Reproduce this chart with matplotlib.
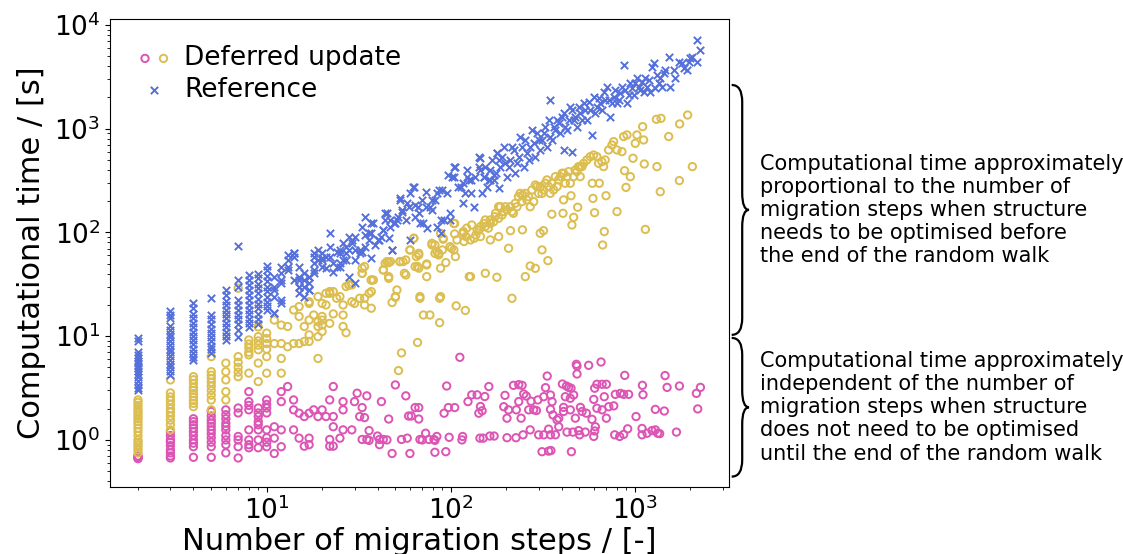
import matplotlib
matplotlib.use("Agg")
import matplotlib.pyplot as plt
from matplotlib.path import Path
from matplotlib.patches import PathPatch
from matplotlib.legend_handler import HandlerTuple

# colours of the three groups
PINK = "#dc55b4"
YELLOW = "#dcbe50"
BLUE = "#5570db"


def column(steps, times):
    # all runs that share the same number of migration steps
    return [(steps, t) for t in times]


# ---- Deferred update, no optimisation needed (pink) ----
pink_low = (column(2, [0.66, 0.67, 0.68, 0.69, 0.70])
            + column(3, [1.2, 1.1, 1.0, 0.95, 0.88, 0.80, 0.75, 0.70, 0.67])
            + column(4, [1.6, 1.5, 1.4, 1.3, 1.2, 1.1, 1.0, 0.93, 0.86, 0.68])
            + column(5, [1.88, 1.7, 1.55, 1.45, 1.35, 1.25, 1.15, 1.05, 0.95, 0.86, 0.68])
            + column(6, [1.95, 1.75, 1.6, 1.45, 1.35, 1.25, 1.1, 1.0, 0.9, 0.75])
            + column(7, [2.03, 1.82, 1.08, 1.0, 0.86, 0.67])
            + column(8, [2.92, 2.34, 2.15, 1.95, 1.25, 1.0, 0.9, 0.84])
            + column(9, [2.03, 1.82, 1.68, 1.5, 1.4, 1.25, 1.0, 0.84])
            + column(10, [2.43, 2.2, 2.03, 1.82, 1.25, 1.05, 0.95, 0.86]))

pink_mid = [
    (12, 2.92), (13, 3.27), (12, 2.34), (14, 2.43), (14, 1.95), (11, 1.34), (12, 1.25),
    (14, 1.25), (11, 1.04), (12, 0.86), (11, 0.74),
    (23, 3.27), (50, 3.39), (95, 3.31), (112, 6.26), (161, 3.27), (22, 2.43), (26, 2.34),
    (30, 2.34), (31, 2.82), (35, 2.66), (42, 2.34), (57, 2.66), (64, 2.05), (67, 2.05),
    (33, 2.05), (26, 1.95), (124, 2.34), (130, 2.72), (139, 2.72), (153, 2.62), (145, 2.10),
    (148, 1.91), (142, 1.81), (92, 1.81), (97, 2.05), (105, 2.05), (15, 1.81), (16, 1.68),
    (17, 1.81), (18, 1.95), (19, 1.68), (20, 1.95), (21, 1.68), (23, 1.68), (32, 1.68),
    (34, 1.64), (46, 1.59), (59, 1.70), (61, 1.70), (67, 1.59), (23, 1.34), (26, 1.25),
    (29, 1.25), (36, 1.23), (15, 1.04), (17, 1.04), (22, 1.01), (25, 1.04), (33, 1.01),
    (35, 1.01), (36, 0.99), (40, 1.09), (41, 1.01), (43, 1.01), (45, 1.0), (54, 1.01),
    (58, 1.04), (68, 1.01), (73, 1.16), (70, 1.0), (76, 1.01), (81, 1.01), (84, 1.08),
    (82, 0.99), (98, 1.06), (116, 1.08), (115, 1.0), (144, 1.04), (150, 1.04), (163, 1.09),
    (172, 1.09), (16, 0.87), (17, 0.90), (22, 0.87), (23, 0.87), (41, 0.90), (48, 0.74),
    (60, 0.74), (82, 0.76), (94, 0.77),
]

pink_high = [
    (481, 5.36), (485, 5.16), (561, 5.24), (655, 5.64), (485, 4.32), (334, 4.13), (881, 4.19),
    (1459, 4.17), (219, 3.36), (234, 3.41), (244, 3.36), (327, 3.19), (404, 3.46), (425, 3.31),
    (437, 3.21), (450, 3.15), (605, 3.15), (622, 3.44), (664, 3.44), (700, 3.44), (1099, 3.36),
    (1496, 3.21), (1746, 3.31), (2270, 3.21), (2159, 2.81), (197, 2.69), (249, 2.77),
    (257, 2.65), (320, 2.61), (348, 2.71), (419, 2.61), (446, 2.52), (465, 2.71), (682, 2.61),
    (783, 2.75), (834, 2.81), (869, 2.75), (925, 2.75), (1107, 2.73), (234, 2.34), (273, 2.36),
    (297, 2.43), (355, 2.34), (598, 2.46), (194, 2.09), (206, 1.95), (227, 1.95), (265, 1.95),
    (282, 1.95), (292, 1.92), (348, 1.97), (410, 2.06), (410, 1.88), (446, 1.95), (506, 2.06),
    (517, 1.88), (545, 1.81), (622, 2.02), (664, 1.95), (721, 2.09), (768, 2.13), (1292, 1.97),
    (1445, 1.90), (2195, 1.99), (202, 1.62), (241, 1.62), (359, 1.74), (386, 1.62), (378, 1.56),
    (475, 1.62), (585, 1.58), (700, 1.62), (1015, 1.68), (270, 1.25), (300, 1.12), (320, 1.12),
    (340, 1.27), (348, 1.12), (370, 1.12), (386, 1.34), (428, 1.19), (461, 1.19), (495, 1.23),
    (501, 1.12), (538, 1.19), (598, 1.08), (605, 1.22), (610, 1.34), (777, 1.12), (827, 1.08),
    (869, 1.13), (914, 1.28), (1094, 1.29), (1094, 1.12), (1164, 1.16), (1239, 1.23),
    (1292, 1.25), (1330, 1.16), (1364, 1.15), (1682, 1.19), (202, 1.05), (226, 1.05),
    (247, 1.12), (313, 0.77), (340, 0.78), (350, 0.79), (452, 0.77),
]

# ---- Deferred update, optimisation needed (yellow) ----
yellow_low = (column(2, [2.43, 2.3, 2.15, 2.0, 1.9, 1.8, 1.7, 1.6, 1.5, 1.4, 1.3, 1.2, 1.1,
                         1.0, 0.95, 0.9, 0.85, 0.8, 0.75])
              + column(3, [3.79, 2.84, 2.6, 2.4, 2.2, 2.0, 1.85, 1.7, 1.55, 1.4, 1.25])
              + column(4, [4.07, 3.8, 3.5, 3.2, 3.0, 2.8, 2.6, 2.4, 2.25, 2.09])
              + column(5, [6.35, 4.55, 4.2, 3.9, 3.6, 3.3, 3.0, 2.7, 2.43, 1.95])
              + column(6, [5.5, 4.55, 3.79, 2.92, 2.43])
              + column(7, [29.0, 6.35, 5.6, 5.0, 4.5, 4.07])
              + column(8, [9.2, 8.4, 7.7, 7.0, 6.6, 4.4])
              + column(9, [12.3, 9.9, 9.0, 8.2, 7.4, 5.5, 3.65])
              + column(10, [10.7, 9.5, 8.5, 7.5, 6.35, 4.4]))

yellow_mid = [
    (11, 14.3), (12, 12.8), (13, 12.4), (14, 17.9), (11, 8.5), (12, 8.5), (13, 7.9),
    (14, 8.5), (15, 8.5), (12, 6.1), (12, 4.4),
    (15, 19.3), (17, 21.5), (17, 20.7), (19, 24.1), (20, 20.7), (21, 20.0), (22, 26.9),
    (23, 26.9), (24, 23.2), (25, 24.1), (26, 20.0), (29, 21.5), (30, 20.7), (32, 23.2),
    (34, 23.2), (36, 25.9), (37, 26.9), (37, 18.6), (34, 20.0), (28, 31.2), (29, 31.2),
    (33, 45.2), (33, 40.4), (37, 34.8), (38, 34.8), (15, 15.5), (16, 12.4), (17, 14.3),
    (18, 16.0), (19, 13.8), (19, 12.4), (20, 14.3), (20, 15.5), (20, 12.8), (22, 13.3),
    (23, 16.4), (26, 16.0), (26, 12.4), (27, 10.8), (20, 11.1), (17, 10.3), (16, 8.9),
    (17, 8.9), (19, 9.9), (19, 6.1), (43, 43.5), (45, 52.4), (46, 51.2), (46, 36.1),
    (53, 52.4), (55, 52.4), (57, 38.9), (60, 67.8), (63, 87.9), (65, 58.5), (64, 46.9),
    (67, 60.7), (67, 45.2), (74, 49.7), (74, 37.5), (79, 75.8), (82, 75.8), (84, 65.3),
    (86, 60.7), (88, 45.2), (91, 86.0), (94, 51.2), (101, 70.4), (105, 122), (105, 96.8),
    (106, 58.5), (117, 102), (118, 81.7), (121, 91.2), (128, 84.7), (134, 87.9), (137, 94.7),
    (143, 106), (48, 21.1), (50, 23.7), (68, 23.2), (71, 16.0), (77, 16.0), (87, 23.2),
    (87, 13.5), (107, 19.6), (120, 17.7), (126, 37.5), (66, 8.7), (54, 6.9), (52, 4.66),
    (63, 87.9), (60, 67.8), (67, 62.9), (66, 46.9), (74, 48.6), (79, 78.6), (82, 62.9),
    (86, 62.9), (88, 98.2), (91, 87.9), (90, 67.8), (99, 73.0), (104, 67.8), (108, 84.7),
    (117, 98.2), (122, 110), (130, 118), (139, 106), (145, 91.2), (104, 122), (44, 50.4),
    (46, 37.5), (47, 52.4), (53, 52.4), (56, 40.4), (57, 54.3), (51, 27.9), (50, 24.1),
    (43, 43.5), (37, 34.8), (34, 46.9), (33, 40.4), (28, 31.2), (27, 30.1), (22, 25.9),
    (21, 25.9), (68, 24.1), (88, 24.1), (128, 37.5),
]

yellow_high = [
    (145, 114), (154, 132), (164, 122), (171, 127), (182, 137), (186, 177), (194, 159),
    (202, 165), (211, 177), (219, 153), (229, 177), (233, 221), (238, 238), (246, 230),
    (259, 206), (270, 177), (282, 198), (288, 287), (300, 238), (306, 277), (326, 298),
    (333, 321), (347, 238), (362, 257), (378, 277), (394, 345), (410, 372), (419, 298),
    (446, 298), (465, 345), (484, 386), (494, 431), (505, 345), (516, 431), (597, 558),
    (622, 538), (635, 464), (662, 482), (676, 431), (690, 500), (720, 624), (751, 697),
    (767, 751), (800, 624), (851, 601), (869, 840), (906, 871), (1005, 723), (1026, 871),
    (1102, 1047), (1116, 779), (1309, 1233), (1387, 1259), (1527, 840), (1751, 1112),
    (1935, 1355),
    (151, 122), (160, 110), (174, 142), (190, 147), (198, 177), (215, 159), (224, 191),
    (243, 198), (254, 238), (265, 221), (276, 257), (294, 277), (313, 238), (319, 257),
    (340, 277), (354, 298), (370, 345), (385, 321), (402, 372), (428, 345), (437, 386),
    (474, 400), (505, 431), (527, 464), (549, 500), (573, 538), (154, 114), (164, 132),
    (175, 153), (182, 177),
    (164, 84.7), (182, 91.2), (211, 104), (206, 70.4), (245, 106), (306, 98.2), (319, 104),
    (313, 67.8), (337, 53.5), (270, 47.5), (288, 45.1), (254, 37.5), (154, 40.4), (178, 37.0),
    (215, 23.2), (354, 150), (407, 153), (410, 206), (450, 226), (465, 140), (489, 175),
    (455, 118), (592, 213), (587, 298), (641, 298), (604, 155), (697, 226), (800, 159),
    (682, 102), (668, 75.7), (1140, 107), (879, 394), (945, 345), (895, 272), (977, 519),
    (1125, 457), (1318, 431), (1374, 247), (1745, 316), (2053, 431),
]

# ---- Reference (blue) ----
blue_low = (column(2, [9.7, 9.0, 7.1, 6.6, 6.2, 5.8, 5.5, 5.2, 4.9, 4.6, 4.3, 4.0, 3.7, 3.4,
                       3.2, 3.0])
            + column(3, [17.3, 16, 15, 12.4, 11.5, 10.6, 9.8, 9.0, 8.3, 7.6, 7.0, 6.4, 5.9,
                         5.4, 5.0, 4.6, 4.2])
            + column(4, [20.8, 18.7, 16.5, 15, 13.5, 12.3, 11, 10, 9.2, 8.4, 7.6, 6.9, 6.3, 5.9])
            + column(5, [23.2, 16, 14.5, 13, 11.8, 10.7, 9.8, 8.9, 8.1, 7.5, 6.9])
            + column(6, [27.9, 25, 22, 20, 18, 16.5, 15, 13.5, 12.2, 11, 10, 9.2])
            + column(7, [74, 34.8, 30, 22.3, 20, 18, 16, 14.5, 13, 11.5, 9.9])
            + column(8, [39, 35, 31, 28, 25, 22.5, 20, 18, 16.3, 14.7, 13.5, 12.3])
            + column(9, [40, 36, 32, 29, 26, 23, 20.5, 18.5, 16.5, 14.8, 13])
            + column(10, [48, 43, 38, 34, 30, 27, 24, 21.5, 19.5, 17.9]))

blue_mid = [
    (11, 16.6), (12, 34.8), (13, 60.7), (14, 62.9), (13, 43.5), (15, 46.8), (11, 24.1),
    (12, 22.3), (11, 37.5), (15, 30.1), (11, 30.1), (12, 46.8), (13, 54.3), (14, 58.5),
    (14, 34.8), (12, 20.8), (11, 16.6),
    (15, 34.8), (16, 40.4), (16, 30.1), (17, 32.4), (17, 37.5), (18, 50.4), (18, 58.5),
    (18, 43.5), (19, 54.3), (20, 62.9), (20, 46.9), (20, 56.4), (21, 58.5), (22, 73.0),
    (22, 98.2), (23, 41.9), (23, 50.4), (24, 65.3), (25, 62.9), (25, 46.9), (26, 54.3),
    (26, 78.7), (27, 73.0), (28, 91.2), (29, 84.7), (30, 67.8), (30, 54.3), (32, 67.8),
    (33, 65.3), (34, 142), (34, 94.7), (36, 98.2), (37, 56.4), (37, 122), (39, 75.8),
    (41, 84.7), (43, 106), (44, 153), (46, 87.9), (47, 132), (48, 67.8), (50, 122),
    (52, 142), (53, 213), (54, 165), (57, 132), (59, 177), (60, 84.7), (63, 277), (64, 184),
    (67, 153), (68, 122), (70, 206), (73, 248), (74, 110), (79, 165), (82, 206), (84, 114),
    (86, 257), (15, 25.9), (16, 24.1), (17, 27.9),
    (62, 277), (60, 238), (58, 191), (54, 159), (53, 206), (51, 132), (49, 122), (47, 114),
    (45, 153), (44, 132), (43, 106), (42, 91.2), (40, 84.7), (38, 122), (37, 98.2),
    (36, 84.7), (34, 73.0), (33, 114), (32, 62.9), (30, 91.2), (29, 78.6), (28, 67.8),
    (27, 54.3), (27, 62.9), (25, 67.8), (25, 50.4), (24, 46.9), (22, 58.5), (21, 45.1),
    (20, 54.3), (19, 67.8), (18, 40.4), (18, 62.9), (17, 37.5), (16, 34.8), (15, 37.5),
    (15, 30.1), (14, 62.9), (13, 46.9), (12, 40.4), (12, 32.4), (11, 27.9), (48, 67.8),
    (28, 37.5), (30, 32.4), (17, 27.9), (95, 238), (90, 257), (84, 238), (79, 206),
    (77, 177), (73, 177), (66, 177), (64, 142), (99, 132), (88, 132), (71, 122), (97, 358),
    (101, 345), (104, 431), (110, 277), (117, 298),
]

blue_high = [
    (92, 132), (88, 98.2), (99, 153), (104, 345), (106, 431), (113, 277), (117, 191),
    (120, 238), (125, 321), (133, 177), (142, 538), (145, 400), (148, 238), (151, 345),
    (157, 277), (164, 400), (171, 321), (178, 580), (182, 267), (186, 431), (194, 672),
    (198, 464), (202, 345), (211, 500), (220, 624), (224, 372), (234, 538), (239, 840),
    (249, 431), (259, 580), (270, 672), (276, 973), (288, 538), (300, 779), (307, 624),
    (320, 904), (333, 672), (348, 1890), (348, 840), (362, 1047), (378, 1210), (394, 904),
    (410, 1410), (410, 624), (428, 973), (446, 1630), (456, 601), (466, 1210), (485, 1047),
    (506, 1410), (527, 1760), (550, 1210), (573, 1520), (585, 871), (597, 2040), (623, 1630),
    (650, 1760), (677, 2280), (706, 2540), (721, 1890), (736, 1310), (767, 2040), (800, 1760),
    (834, 2190), (871, 4110), (889, 2360), (908, 1760), (946, 2740), (986, 2110), (1028, 3060),
    (1050, 2540), (1094, 2840), (1117, 2280), (1140, 3060), (1164, 2540), (1239, 3960),
    (1265, 4270), (1293, 2450), (1321, 3300), (1377, 3060), (1435, 3420), (1466, 3680),
    (1528, 4950), (1661, 3060), (1732, 4430), (1805, 4270), (1922, 3680), (2004, 4780),
    (2047, 4950), (2180, 4430), (2180, 7160), (2272, 5740),
    (122, 345), (128, 321), (142, 431), (145, 519), (151, 345), (164, 321), (171, 358),
    (178, 580), (182, 500), (122, 400), (128, 238), (136, 345), (154, 431), (161, 321),
    (167, 500), (175, 372), (190, 538), (206, 431), (215, 672), (229, 464), (244, 672),
    (254, 779), (265, 500), (282, 723), (294, 904), (313, 779), (327, 1047), (340, 1210),
    (355, 779), (370, 973), (386, 1127), (402, 1310), (419, 1047), (437, 1210), (456, 1520),
    (475, 1310), (495, 1630), (516, 1210), (538, 1520), (561, 1824), (611, 1410),
    (637, 1963), (664, 1520), (692, 1890), (752, 1760), (784, 2360), (817, 1890),
    (852, 2540), (927, 2110), (966, 2450), (1007, 2740), (1072, 2360), (1189, 2950),
    (1214, 2280), (1349, 2740), (1406, 2540), (1560, 2540), (1626, 3680), (1845, 3830),
    (1963, 4430),
]

# regions marked by the braces (time limits, s)
upper_region = (10.3, 2640)
lower_region = (0.443, 9.62)

upper_note = ("Computational time approximately\nproportional to the number of\n"
              "migration steps when structure\nneeds to be optimised before\n"
              "the end of the random walk")
lower_note = ("Computational time approximately\nindependent of the number of\n"
              "migration steps when structure\ndoes not need to be optimised\n"
              "until the end of the random walk")


def split(points):
    return [p[0] for p in points], [p[1] for p in points]


def brace(ax, lo, hi, x0=1.005, x1=1.022, x2=1.033, r=0.036):
    # curly brace right of the axes, spanning data values lo..hi
    to_axes = ax.transData + ax.transAxes.inverted()
    a0 = to_axes.transform((10, lo))[1]
    a1 = to_axes.transform((10, hi))[1]
    am = (a0 + a1) / 2
    verts = [(x0, a1), (x1, a1), (x1, a1 - r), (x1, am + r), (x1, am), (x2, am),
             (x1, am), (x1, am - r), (x1, a0 + r), (x1, a0), (x0, a0)]
    codes = [Path.MOVETO, Path.CURVE3, Path.CURVE3, Path.LINETO, Path.CURVE3, Path.CURVE3,
             Path.CURVE3, Path.CURVE3, Path.LINETO, Path.CURVE3, Path.CURVE3]
    ax.add_patch(PathPatch(Path(verts, codes), transform=ax.transAxes, fill=False,
                           lw=1.6, color="black", clip_on=False))
    return am


fig = plt.figure(figsize=(11.23, 5.54), dpi=100)
ax = fig.add_axes([0.098, 0.121, 0.5508, 0.8448])

px, py = split(pink_low + pink_mid + pink_high)
yx, yy = split(yellow_low + yellow_mid + yellow_high)
bx, by = split(blue_low + blue_mid + blue_high)

h_pink = ax.scatter(px, py, s=28, facecolors="none", edgecolors=PINK, linewidths=1.4)
h_yellow = ax.scatter(yx, yy, s=28, facecolors="none", edgecolors=YELLOW, linewidths=1.4)
h_blue = ax.scatter(bx, by, s=28, marker="x", color=BLUE, linewidths=1.4)

ax.set_xscale("log")
ax.set_yscale("log")
ax.set_xlim(1.41, 3230)
ax.set_ylim(0.352, 11430)
ax.tick_params(labelsize=19)
ax.set_xlabel("Number of migration steps / [-]", fontsize=22, labelpad=1)
ax.set_ylabel("Computational time / [s]", fontsize=22, labelpad=6)

ax.legend([(h_pink, h_yellow), h_blue], ["Deferred update", "Reference"],
          handler_map={tuple: HandlerTuple(ndivide=None, pad=0.05)},
          loc="upper left", frameon=False, fontsize=19, handlelength=1.35,
          handletextpad=0.45, borderaxespad=0.6, labelspacing=0.2)

mid_hi = brace(ax, *upper_region)
mid_lo = brace(ax, *lower_region)
ax.text(1.051, mid_hi, upper_note, transform=ax.transAxes, fontsize=15, va="center",
        ha="left", linespacing=1.2)
ax.text(1.051, mid_lo, lower_note, transform=ax.transAxes, fontsize=15, va="center",
        ha="left", linespacing=1.2)

fig.savefig("out.png", dpi=100)
